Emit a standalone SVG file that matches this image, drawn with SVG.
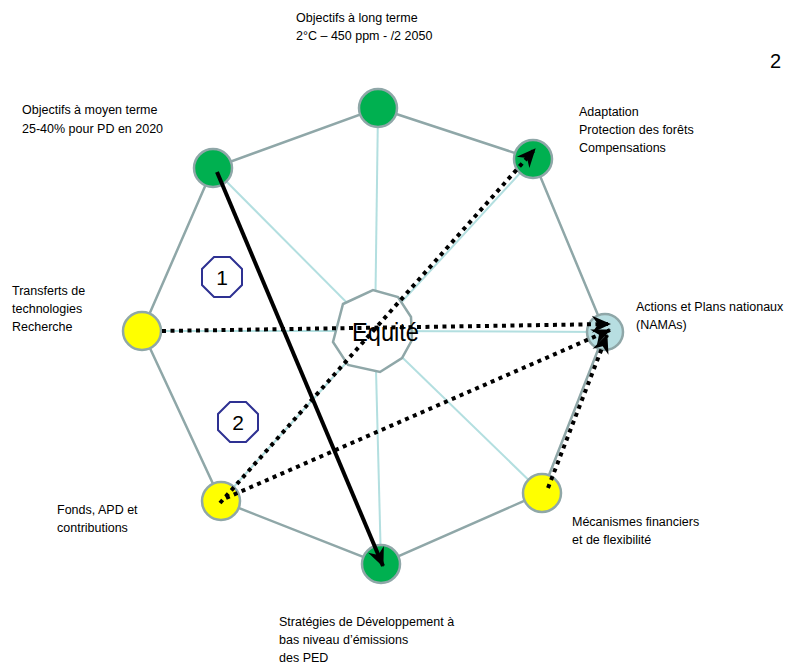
<svg xmlns="http://www.w3.org/2000/svg" width="787" height="664" viewBox="0 0 787 664">
<style>
.lbl{font-family:"Liberation Sans",Arial,sans-serif;font-size:12.5px;fill:#000}
.ring{fill:none;stroke:#8fa7a8;stroke-width:2.5}
.spoke{stroke:#b3dfe0;stroke-width:2;fill:none}
.node{stroke:#8fa7a8;stroke-width:2.5}
.green{fill:#00b050}
.yellow{fill:#ffff00}
.blue{fill:#b7dee1}
.dot{stroke:#000;stroke-width:4;stroke-dasharray:4 4.5;fill:none}
.solid{stroke:#000;stroke-width:4;fill:none}
.badge{fill:#fff;stroke:#2e3192;stroke-width:2}
.num{font-family:"Liberation Sans",Arial,sans-serif;font-size:21px;fill:#000;text-anchor:middle}
</style>
<defs>
<marker id="ah" viewBox="-20 -10 22 20" refX="0" refY="0" markerWidth="22" markerHeight="20" markerUnits="userSpaceOnUse" orient="auto">
<path d="M1,0 L-18,-8.5 L-12,0 L-18,8.5 Z" fill="#000"/>
</marker>
</defs>
<rect width="787" height="664" fill="#fff"/>
<g id="spokes">
<line class="spoke" x1="375" y1="331" x2="378" y2="108"/>
<line class="spoke" x1="375" y1="331" x2="213" y2="168"/>
<line class="spoke" x1="375" y1="331" x2="533" y2="159"/>
<line class="spoke" x1="375" y1="331" x2="605" y2="332"/>
<line class="spoke" x1="375" y1="331" x2="542" y2="493"/>
<line class="spoke" x1="375" y1="331" x2="381" y2="564"/>
<line class="spoke" x1="375" y1="331" x2="221" y2="501"/>
<line class="spoke" x1="375" y1="331" x2="142" y2="331"/>
</g>
<g id="ring">
<polygon class="ring" points="378,108 533,159 605,332 542,493 381,564 221,501 142,331 213,168"/>
</g>
<g id="center">
<polygon fill="#fff" stroke="#8fa7a8" stroke-width="2.5" points="343,304 373,290 398,297 411,317 412,340 402,358 380,372 348,365 333,342"/>
</g>
<g id="n-top"><circle class="node green" cx="378" cy="108" r="19"/></g>
<g id="n-topleft"><circle class="node green" cx="213" cy="168" r="19"/></g>
<g id="n-topright"><circle class="node green" cx="533" cy="159" r="19"/></g>
<g id="n-right"><circle class="node blue" cx="605" cy="332" r="18"/></g>
<g id="n-bottomright"><circle class="node yellow" cx="542" cy="493" r="19"/></g>
<g id="n-bottom"><circle class="node green" cx="381" cy="564" r="19"/></g>
<g id="n-bottomleft"><circle class="node yellow" cx="221" cy="501" r="19"/></g>
<g id="n-left"><circle class="node yellow" cx="142" cy="331" r="19"/></g>
<g id="equite"><text x="352" y="341" font-family="Liberation Sans,Arial,sans-serif" font-size="26" textLength="67" lengthAdjust="spacingAndGlyphs">Equité</text></g>
<g id="connectors">
<line class="solid" x1="217" y1="172" x2="383" y2="566" marker-end="url(#ah)"/>
<line class="dot" x1="220" y1="503" x2="535" y2="149" marker-end="url(#ah)"/>
<line class="dot" x1="162" y1="331" x2="610" y2="324" marker-end="url(#ah)"/>
<line class="dot" x1="226" y1="498" x2="610" y2="330" marker-end="url(#ah)"/>
<line class="dot" x1="548" y1="488" x2="607" y2="335" marker-end="url(#ah)"/>
</g>
<g id="badge1"><polygon class="badge" points="214,257 230,257 242,269 242,285 230,297 214,297 202,285 202,269"/><text class="num" x="222" y="285">1</text></g>
<g id="badge2"><polygon class="badge" points="230,402 246,402 258,414 258,430 246,442 230,442 218,430 218,414"/><text class="num" x="238" y="430">2</text></g>
<g id="labels">
<text class="lbl" x="296" y="22">Objectifs à long terme</text>
<text class="lbl" x="296" y="40">2°C – 450 ppm - /2 2050</text>
<text class="lbl" x="22" y="114">Objectifs à moyen terme</text>
<text class="lbl" x="22" y="133">25-40% pour PD en 2020</text>
<text class="lbl" x="579" y="116">Adaptation</text>
<text class="lbl" x="579" y="134">Protection des forêts</text>
<text class="lbl" x="579" y="152">Compensations</text>
<text class="lbl" x="12" y="295">Transferts de</text>
<text class="lbl" x="12" y="313">technologies</text>
<text class="lbl" x="12" y="331">Recherche</text>
<text class="lbl" x="636" y="311">Actions et Plans nationaux</text>
<text class="lbl" x="636" y="329">(NAMAs)</text>
<text class="lbl" x="57" y="514">Fonds, APD et</text>
<text class="lbl" x="57" y="532">contributions</text>
<text class="lbl" x="572" y="526">Mécanismes financiers</text>
<text class="lbl" x="572" y="544">et de flexibilité</text>
<text class="lbl" x="279" y="626">Stratégies de Développement à</text>
<text class="lbl" x="279" y="644">bas niveau d’émissions</text>
<text class="lbl" x="279" y="662">des PED</text>
<text x="770" y="68" font-family="Liberation Sans,Arial,sans-serif" font-size="20">2</text>
</g>
</svg>
